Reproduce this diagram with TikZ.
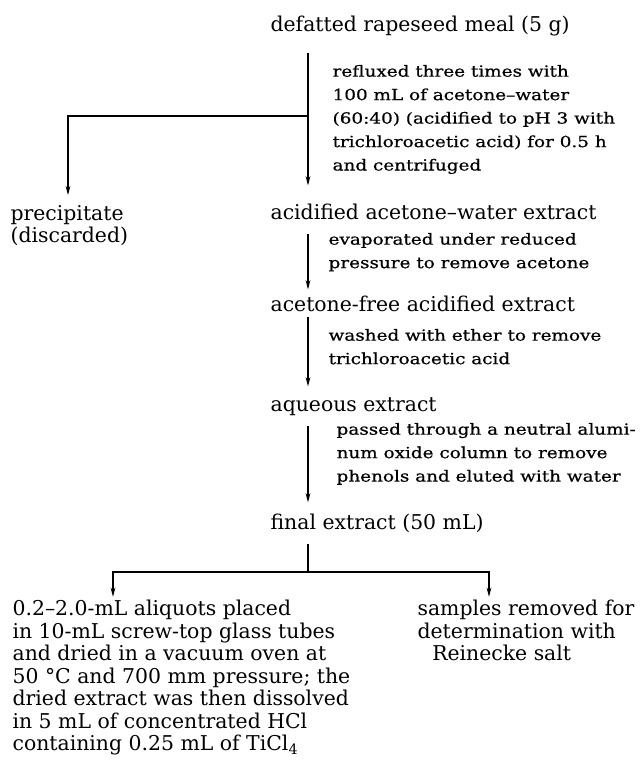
\documentclass[tikz,border=0pt]{standalone}
\usepackage{fontspec}
\setmainfont{DejaVu Serif}
\newfontfamily\notefont[FakeStretch=1.2, FakeBold=0.6]{DejaVu Serif}
\usepackage{tikz}
\usetikzlibrary{arrows.meta}

\begin{document}
\begin{tikzpicture}[x=0.75pt, y=-0.75pt, line width=0.9pt,
    >={Stealth[length=7pt, width=3.6pt]},
    stage/.style={anchor=base west, inner sep=0pt, text height=11pt, text depth=3pt,
        font=\fontsize{15.3}{18}\selectfont},
    block/.style={anchor=north west, inner sep=0pt, align=left,
        font=\fontsize{15.3}{16.9}\selectfont},
    note/.style={anchor=north west, inner sep=0pt, align=left,
        font=\notefont\fontsize{11.5}{17.6}\selectfont}]

    \useasboundingbox (0,0) rectangle (640,764);

    % Nodes
    \node (meal) [stage] at (270,31) {defatted rapeseed meal (5 g)};
    \node (acid) [stage] at (270,219) {acidified acetone–water extract};
    \node (free) [stage] at (270,311) {acetone-free acidified extract};
    \node (aqueous) [stage] at (270,411) {aqueous extract};
    \node (final) [stage] at (270,529) {final extract (50 mL)};

    \node (precip) [block] at (10,204.5) {precipitate\\(discarded)};
    \node (aliquots) [block] at (12,599.5) {0.2–2.0-mL aliquots placed\\in 10-mL screw-top glass tubes\\and dried in a vacuum oven at\\50 °C and 700 mm pressure; the\\dried extract was then dissolved\\in 5 mL of concentrated HCl\\containing 0.25 mL of TiCl\textsubscript{4}};
    \node (samples) [block] at (417,599.5) {samples removed for\\determination with\\\hspace*{11pt}Reinecke salt};

    % Step notes beside the arrows
    \node (reflux) [note] at (332,64.4) {refluxed three times with\\100 mL of acetone–water\\(60:40) (acidified to pH 3 with\\trichloroacetic acid) for 0.5 h\\and centrifuged};
    \node (evap) [note] at (328,232.4) {evaporated under reduced\\pressure to remove acetone};
    \node (wash) [note] at (328,328.4) {washed with ether to remove\\trichloroacetic acid};
    \node (column) [note] at (336,422.4) {passed through a neutral alumi-\\num oxide column to remove\\phenols and eluted with water};

    % Columns and junctions
    \coordinate (trunk) at (308,0);
    \coordinate (fork) at (308,116);
    \coordinate (split) at (308,572);
    \coordinate (pcol) at (68,0);
    \coordinate (lcol) at (113,0);
    \coordinate (rcol) at (489,0);

    % Arrows
    \draw[->, shorten <=12.75pt, shorten >=13.7pt] (meal.south -| trunk) -- (acid.north -| trunk);
    \draw[->, shorten >=7pt] (fork) -| (precip.north -| pcol);
    \draw[->, shorten <=7.5pt, shorten >=4.7pt] (acid.south -| trunk) -- (free.north -| trunk);
    \draw[->, shorten <=0.75pt, shorten >=7pt] (free.south -| trunk) -- (aqueous.north -| trunk);
    \draw[->, shorten <=7.5pt, shorten >=8.5pt] (aqueous.south -| trunk) -- (final.north -| trunk);
    \draw[shorten <=7.5pt] (final.south -| trunk) -- (split);
    \draw[->, shorten >=2pt] (split) -| (aliquots.north -| lcol);
    \draw[->, shorten >=2pt] (split) -| (samples.north -| rcol);

\end{tikzpicture}
\end{document}
